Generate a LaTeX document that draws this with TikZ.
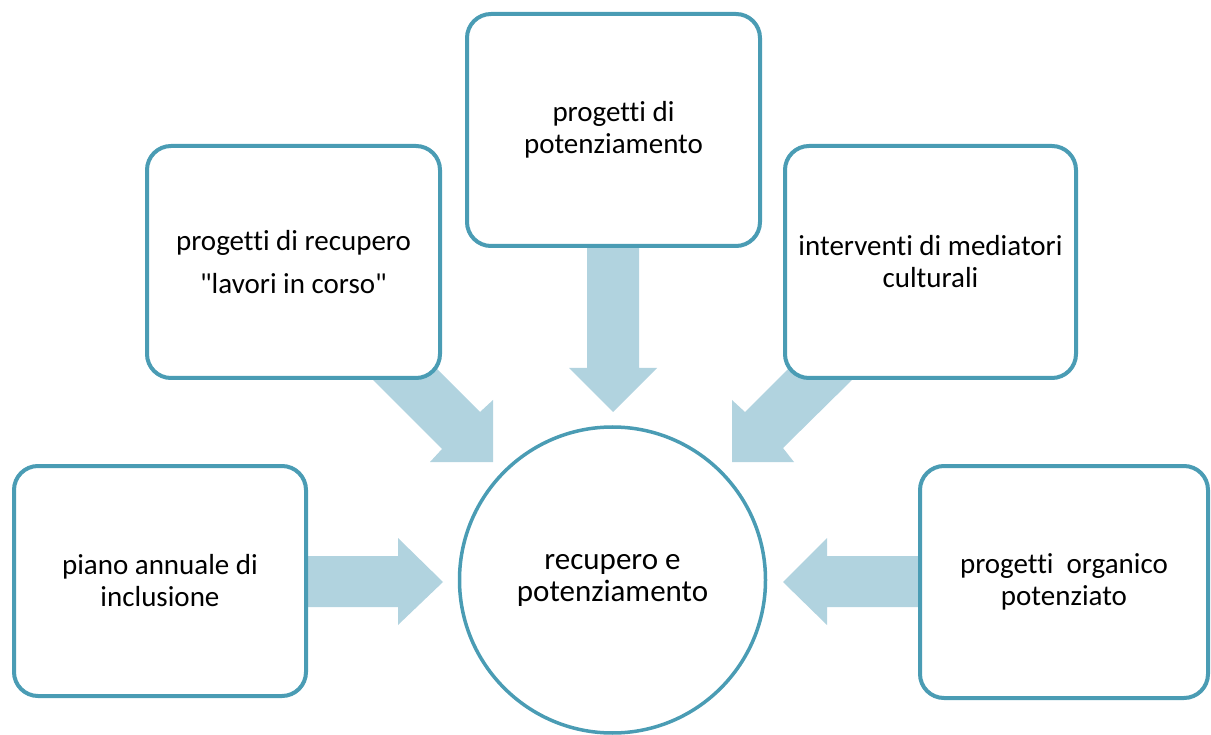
\documentclass[tikz,border=0pt]{standalone}
\usepackage{fontspec}
\setmainfont{Carlito}[Ligatures={NoCommon,TeXOff}]
\definecolor{edgeblue}{RGB}{74,156,180}
\definecolor{arrowfill}{RGB}{177,211,223}
\begin{document}
\begin{tikzpicture}[x=1pt,y=-1pt,
  box/.style={draw=edgeblue, line width=4pt, fill=white, rounded corners=24pt,
    rectangle, inner sep=0pt, outer sep=0pt, align=center,
    font=\fontsize{29}{32}\selectfont},
  hub/.style={draw=edgeblue, line width=3.5pt, fill=white, circle,
    inner sep=0pt, outer sep=0pt, minimum size=306pt, align=center,
    font=\fontsize{31}{32}\selectfont},
  blockarrow/.style={fill=arrowfill, draw=none}]
\useasboundingbox (0,0) rectangle (1211,735);

% block arrows (drawn first, under the shapes)
\fill[blockarrow] (300,556) -- (398,556) -- (398,538) -- (443,582) -- (398,625) -- (398,607) -- (300,607) -- cycle;
\fill[blockarrow] (925,556) -- (827,556) -- (827,538) -- (783,582) -- (827,625) -- (827,607) -- (925,607) -- cycle;
\fill[blockarrow] (587,240) -- (639,240) -- (639,368) -- (657,368) -- (613,412) -- (569,368) -- (587,368) -- cycle;
\fill[blockarrow] (430,362) -- (480,412) -- (493,400) -- (493,462) -- (430,462) -- (442,449) -- (370,377) -- cycle;
\fill[blockarrow] (793,364) -- (745,412) -- (732,400) -- (732,462) -- (794,462) -- (783,448) -- (855,377) -- cycle;

% boxes
\node[box, minimum width=293pt, minimum height=232pt] (recupero) at (293.5,262)
  {progetti di recupero\\[11pt]"lavori in corso"};
\node[box, minimum width=293pt, minimum height=232pt] (potenz) at (613.5,130)
  {progetti di\\potenziamento};
\node[box, minimum width=291pt, minimum height=232pt] (mediatori) at (930.5,262)
  {interventi di mediatori\\culturali};
\node[box, minimum width=292pt, minimum height=230pt] (piano) at (160,581)
  {piano annuale di\\inclusione};
\node[box, minimum width=288pt, minimum height=232pt] (organico) at (1064,582)
  {progetti\ \ organico\\potenziato};

% central circle
\node[hub] (centre) at (612.5,580) {recupero e\\potenziamento};
\end{tikzpicture}
\end{document}
